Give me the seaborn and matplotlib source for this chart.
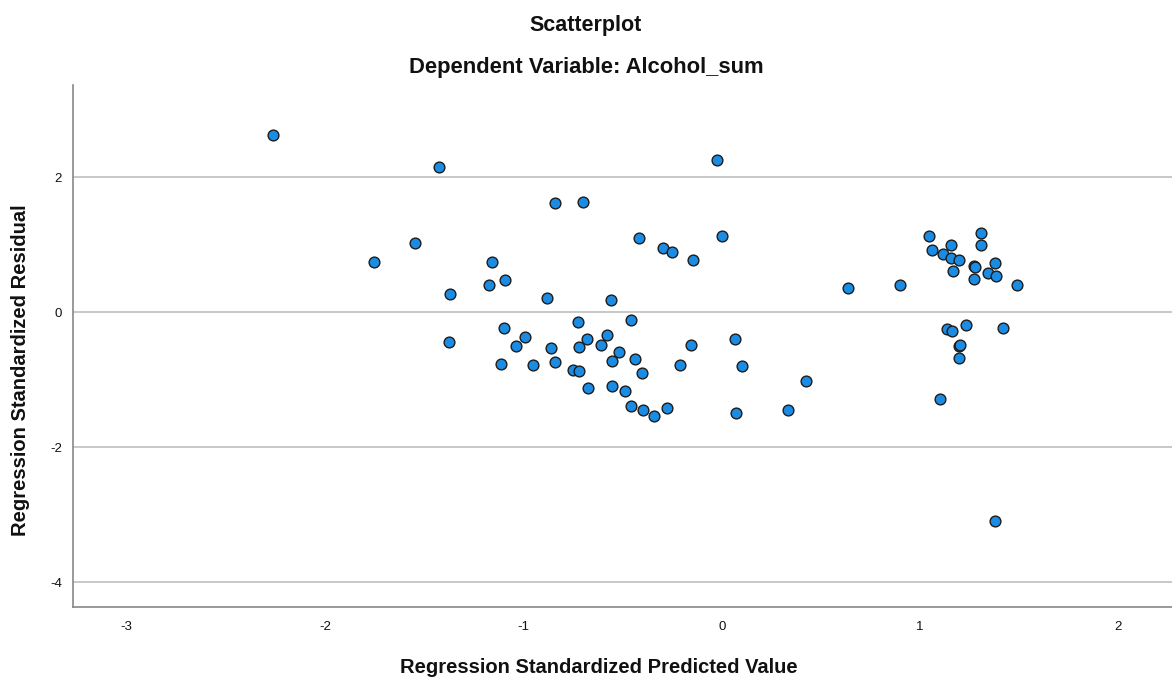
import matplotlib
matplotlib.use("Agg")
import matplotlib.pyplot as plt
import seaborn as sns
import pandas as pd

predicted = [
    -2.263, -1.424, -0.025, -1.547, -1.755, -1.160, -1.093, -1.175, -1.370, -1.098,
    -0.839, -0.701, -0.419, -0.298, -0.249, -0.143, 0.003, -0.879, -0.558, -0.726,
    -0.459, -1.373, -0.993, -1.035, -1.114, -0.950, -0.859, -0.839, -0.719, -0.749,
    -0.721, -0.677, -0.672, -0.607, -0.576, -0.555, -0.516, -0.551, -0.486, -0.437,
    -0.403, -0.457, -0.398, -0.339, -0.277, -0.212, -0.156, 0.067, 0.104, 0.072,
    0.427, 0.333, 0.637, 0.898, 1.046, 1.062, 1.155, 1.118, 1.156, 1.195,
    1.166, 1.305, 1.305, 1.270, 1.276, 1.271, 1.341, 1.380, 1.382, 1.489,
    1.136, 1.159, 1.230, 1.417, 1.197, 1.200, 1.194, 1.099, 1.380,
]
residual = [
    2.627, 2.144, 2.250, 1.027, 0.736, 0.736, 0.470, 0.396, 0.267, -0.241,
    1.610, 1.625, 1.096, 0.953, 0.894, 0.766, 1.131, 0.212, 0.182, -0.153,
    -0.119, -0.449, -0.370, -0.504, -0.765, -0.790, -0.533, -0.741, -0.523, -0.854,
    -0.879, -0.395, -1.126, -0.484, -0.336, -0.726, -0.593, -1.096, -1.170, -0.691,
    -0.909, -1.393, -1.457, -1.536, -1.427, -0.780, -0.484, -0.400, -0.805, -1.491,
    -1.017, -1.447, 0.356, 0.396, 1.126, 0.923, 0.997, 0.854, 0.805, 0.766,
    0.612, 1.175, 0.993, 0.681, 0.665, 0.489, 0.583, 0.721, 0.533, 0.400,
    -0.257, -0.281, -0.188, -0.232, -0.504, -0.490, -0.686, -1.294, -3.100,
]

x_ticks = [-3, -2, -1, 0, 1, 2]
y_ticks = [-4, -2, 0, 2]

df = pd.DataFrame({"pred": predicted, "resid": residual})

sns.set_theme(style="white")
plt.rcParams["font.family"] = ["Liberation Sans", "DejaVu Sans"]

fig = plt.figure(figsize=(11.72, 6.82), dpi=100)
ax = fig.add_axes([0.0623, 0.110, 0.9377, 0.765])

ax.set_xlim(-3.27, 2.27)
ax.set_ylim(-4.37, 3.36)
for yv in y_ticks:
    ax.axhline(yv, color="#c4c4c4", lw=1.3, zorder=0)

sns.scatterplot(data=df, x="pred", y="resid", ax=ax, s=60,
                color="#1b8ce3", edgecolor="#1c1c1c", linewidth=1.0, zorder=3)

ax.set_xticks(x_ticks)
ax.set_xticklabels([str(v) for v in x_ticks])
ax.set_yticks(y_ticks)
ax.set_yticklabels([str(v) for v in y_ticks])
ax.tick_params(axis="both", length=0, labelsize=9.5, colors="#111111", pad=10)
ax.tick_params(axis="y", pad=8)

for side in ["top", "right"]:
    ax.spines[side].set_visible(False)
for side in ["left", "bottom"]:
    ax.spines[side].set_color("#888888")
    ax.spines[side].set_linewidth(1.2)

ax.set_xlabel("Regression Standardized Predicted Value", fontsize=14.5,
              fontweight="bold", color="#111111")
ax.set_ylabel("Regression Standardized Residual", fontsize=14.5,
              fontweight="bold", color="#111111")
ax.xaxis.set_label_coords((599 - 73) / 1099, -51 / 522)
ax.yaxis.set_label_coords(-(73 - 30) / 1099, (607 - 370) / 522)

fig.text(0.5, 1 - 26 / 682, "Scatterplot", ha="center", va="center",
         fontsize=15.5, fontweight="bold", color="#111111")
fig.text(0.5, 1 - 68 / 682, "Dependent Variable: Alcohol_sum", ha="center",
         va="center", fontsize=15.8, fontweight="bold", color="#111111")

fig.savefig("out.png", dpi=100, facecolor="white")
